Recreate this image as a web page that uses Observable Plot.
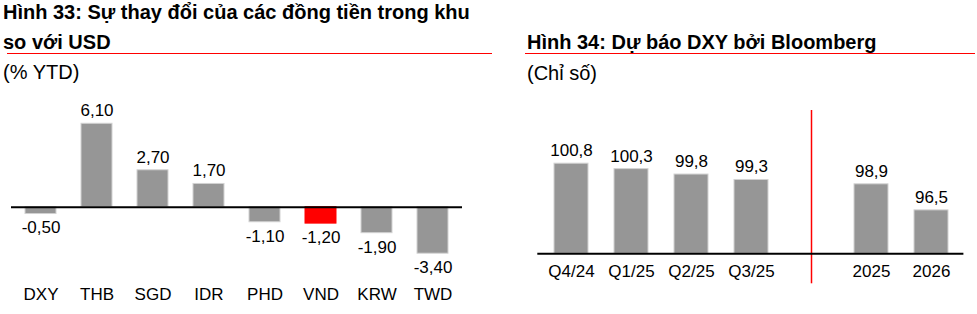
<!DOCTYPE html>
<html>
<head>
<meta charset="utf-8">
<script src="https://cdn.jsdelivr.net/npm/d3@7"></script>
<script src="https://cdn.jsdelivr.net/npm/@observablehq/plot@0.6"></script>
<style>
  html, body { margin: 0; padding: 0; background: #fff; }
  #page { position: relative; width: 977px; height: 314px; overflow: hidden; font-family: "Liberation Sans", Arial, sans-serif; color: #000; }
  .t { position: absolute; white-space: nowrap; font-size: 20px; }
  .b { font-weight: bold; }
  .hr { position: absolute; height: 0; border-top: 1px solid #ff0000; }
  .chart { position: absolute; }
</style>
</head>
<body>
<div id="page">
  <div class="t b" style="left:3px; top:-3px; line-height:30px;">Hình 33: Sự thay đổi của các đồng tiền trong khu<br>so với USD</div>
  <div class="hr" style="left:7px; width:485px; top:53px;"></div>
  <div class="t" style="left:3px; top:61.5px; line-height:20px;">(% YTD)</div>

  <div class="t b" style="left:527px; top:31.5px; line-height:20px;">Hình 34: Dự báo DXY bởi Bloomberg</div>
  <div class="hr" style="left:525px; width:450px; top:53px;"></div>
  <div class="t" style="left:527px; top:63px; line-height:20px;">(Chỉ số)</div>

  <div id="c1" class="chart" style="left:0px; top:90px;"></div>
  <div id="c2" class="chart" style="left:520px; top:90px;"></div>
</div>
<script>
// ---- Chart 1 data ----
const currencies = ["DXY", "THB", "SGD", "IDR", "PHD", "VND", "KRW", "TWD"];
const ytdChange = [-0.5, 6.1, 2.7, 1.7, -1.1, -1.2, -1.9, -3.4];
const highlight = "VND";

// ---- Chart 2 data ----
const periods = ["Q4/24", "Q1/25", "Q2/25", "Q3/25", " ", "2025", "2026"];
const dxyForecast = [100.8, 100.3, 99.8, 99.3, null, 98.9, 96.5];
const separator = " ";

const FONT = "Liberation Sans, Arial, sans-serif";
const GRAY = "#969696";
const EDGE = "#d2d2d2";

const fmt = (v, n) => v.toFixed(n).replace(".", ",");

// Chart 1
const d1 = currencies.map((c, i) => ({cat: c, v: ytdChange[i]}));
const p1 = Plot.plot({
  width: 480,
  height: 224,
  marginLeft: 12,
  marginRight: 20,
  marginTop: 27.8,
  marginBottom: 52.6,
  style: {fontFamily: FONT, fontSize: "17px", background: "none", color: "#000"},
  x: {domain: currencies, paddingInner: 0.45, paddingOuter: 0.225, label: null},
  y: {domain: [-4, 6.5], axis: null},
  marks: [
    Plot.barY(d1, {x: "cat", y: "v", fill: d => d.cat === highlight ? "#ff0000" : GRAY, stroke: d => d.cat === highlight ? "#ff0000" : EDGE, strokeWidth: 1}),
    Plot.ruleY([0], {stroke: "#000", strokeWidth: 2, insetLeft: -1, insetRight: -2}),
    Plot.text(d1.filter(d => d.v >= 0), {x: "cat", y: "v", text: d => fmt(d.v, 2), dy: -13, fill: "#000"}),
    Plot.text(d1.filter(d => d.v < 0), {x: "cat", y: "v", text: d => fmt(d.v, 2), dy: 14, fill: "#000"}),
    Plot.axisX({tickSize: 0, tickPadding: 25.6, label: null, fill: "#000"})
  ]
});
document.getElementById("c1").appendChild(p1);

// Chart 2
const d2 = periods.map((p, i) => ({cat: p, v: dxyForecast[i]})).filter(d => d.v != null);
const p2 = Plot.plot({
  width: 457,
  height: 224,
  marginLeft: 18.3,
  marginRight: 13.6,
  marginTop: 20,
  marginBottom: 60.7,
  style: {fontFamily: FONT, fontSize: "17px", background: "none", color: "#000"},
  x: {domain: periods, paddingInner: 0.44, paddingOuter: 0.22, label: null},
  y: {domain: [92.5, 105.7], axis: null},
  marks: [
    Plot.barY(d2, {x: "cat", y1: 92.5, y2: "v", fill: GRAY, stroke: EDGE, strokeWidth: 1}),
    Plot.ruleX([separator], {x: d => d, stroke: "#ff0000", strokeWidth: 1.5, insetBottom: -30}),
    Plot.ruleY([92.5], {stroke: "#000", strokeWidth: 2, insetLeft: -1}),
    Plot.text(d2, {x: "cat", y: "v", text: d => fmt(d.v, 1), dy: -13, fill: "#000"}),
    Plot.axisX({tickSize: 0, tickPadding: 11.4, label: null, fill: "#000"})
  ]
});
document.getElementById("c2").appendChild(p2);
</script>
</body>
</html>
